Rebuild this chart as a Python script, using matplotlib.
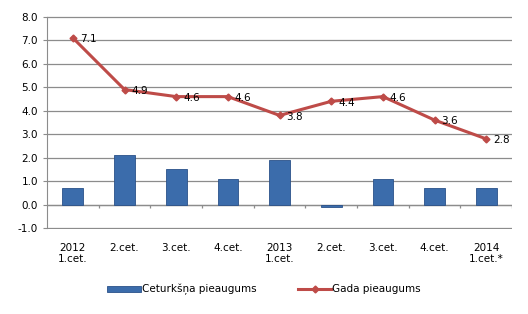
import numpy as np
import matplotlib.pyplot as plt

categories = ['2012\n1.cet.', '2.cet.', '3.cet.', '4.cet.', '2013\n1.cet.',
              '2.cet.', '3.cet.', '4.cet.', '2014\n1.cet.*']
quarterly = [0.7, 2.1, 1.5, 1.1, 1.9, -0.1, 1.1, 0.7, 0.7]
annual = [7.1, 4.9, 4.6, 4.6, 3.8, 4.4, 4.6, 3.6, 2.8]

fig = plt.figure(figsize=(5.28, 3.14), dpi=100)
ax = fig.add_axes([0.089, 0.271, 0.881, 0.678])
x = np.arange(len(categories))

bars = ax.bar(x, quarterly, width=0.4, color='#3b6cab', edgecolor='#2a5189',
              linewidth=0.6, zorder=2, label='Ceturkšņa pieaugums')
line, = ax.plot(x, annual, color='#be4b48', lw=2.2, marker='D', markersize=3.5,
                zorder=3, label='Gada pieaugums')
for xi, v in zip(x, annual):
    ax.annotate(f'{v:.1f}', (xi, v), xytext=(5, -1), textcoords='offset points',
                fontsize=7.5, va='center', ha='left')

ax.set_xlim(-0.5, len(categories) - 0.5)
ax.set_ylim(-1.03, 8.03)
ax.set_yticks(np.arange(-1, 9, 1))
ax.set_yticklabels([f'{v:.1f}' for v in np.arange(-1, 9, 1)], fontsize=7.5)
ax.yaxis.grid(True, color='#8c8c8c', lw=0.9)
ax.set_axisbelow(True)

ax.set_xticks(x)
ax.set_xticklabels(categories, fontsize=7.5)
ax.tick_params(axis='x', length=0, pad=10)
ax.tick_params(axis='y', length=3, color='#8c8c8c')

for s in ['top', 'right', 'bottom']:
    ax.spines[s].set_visible(False)
ax.spines['left'].set_color('#8c8c8c')
ax.spines['left'].set_bounds(-1, 8)
ax.axhline(0, color='#8c8c8c', lw=0.9, zorder=1)
ax.vlines(np.arange(0.5, len(categories), 1), -0.15, 0, color='#8c8c8c', lw=0.9)

fig.legend([bars, line], ['Ceturkšņa pieaugums', 'Gada pieaugums'],
           loc='lower center', bbox_to_anchor=(0.5, 0.03), ncol=2,
           frameon=False, fontsize=7.5, handlelength=3.2, handleheight=0.5,
           columnspacing=4, handletextpad=0.1)
fig.savefig('out.png', dpi=100)
